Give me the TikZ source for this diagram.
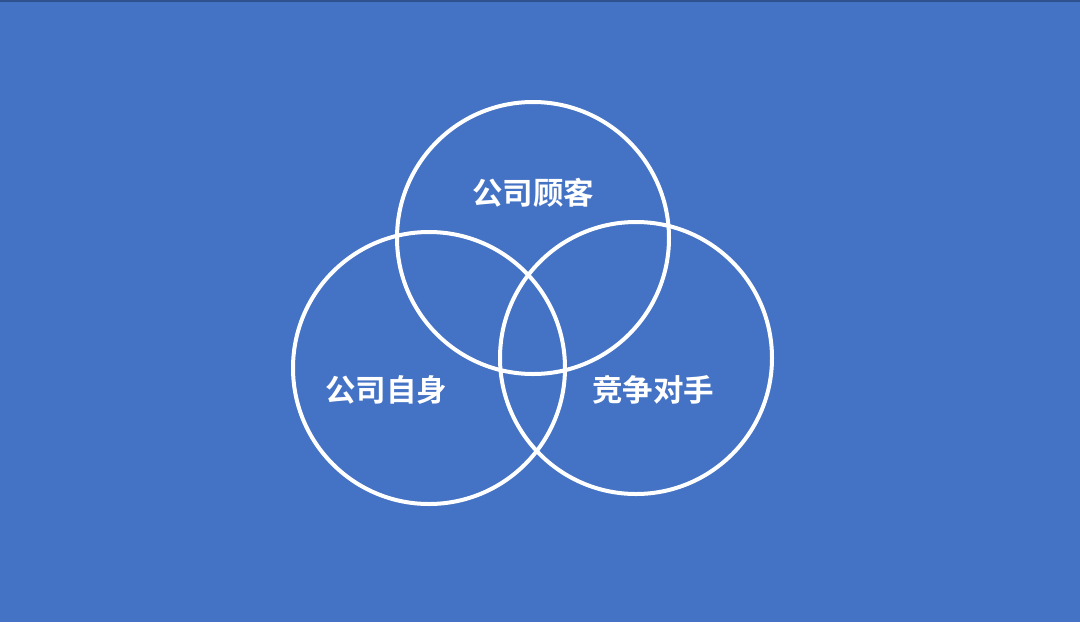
\documentclass[tikz,border=0pt]{standalone}
\usepackage{fontspec}
\newfontfamily\cjk{Noto Sans CJK SC}[BoldFont={Noto Sans CJK SC Bold}]
\definecolor{bg}{HTML}{4472C4}
\definecolor{edge}{HTML}{2F528F}
\begin{document}
\begin{tikzpicture}[x=1pt,y=-1pt,
  ring/.style={draw=white,line width=4pt,circle,minimum size=272pt,inner sep=0pt},
  lbl/.style={text=white,font=\cjk\bfseries\fontsize{30.5}{34}\selectfont,inner sep=0pt}]
\fill[bg] (0,0) rectangle (1080,622);
\useasboundingbox (0,0) rectangle (1080,622);
\fill[edge] (0,0) rectangle (1080,1.5);
\node[ring] (top) at (533,238) {};
\node[ring] (left) at (429,368) {};
\node[ring] (right) at (636,358) {};
\node[lbl] (t1) at (533,193) {公司顾客};
\node[lbl] (t2) at (386,390) {公司自身};
\node[lbl] (t3) at (653,390) {竞争对手};
\end{tikzpicture}
\end{document}
